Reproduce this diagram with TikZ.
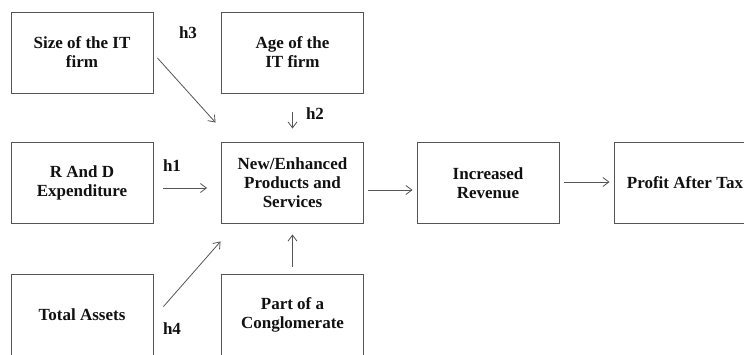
\documentclass[tikz,border=0pt]{standalone}
\usepackage{fontspec}
\setmainfont{Liberation Serif}
\usetikzlibrary{arrows.meta,calc}
\definecolor{linegray}{HTML}{555555}
\definecolor{textdark}{HTML}{111111}
\tikzset{
  factor/.style={
    rectangle, draw=linegray, line width=0.9pt,
    minimum width=142pt, minimum height=81pt, align=center,
    font=\fontsize{17}{19}\selectfont\bfseries, text=textdark
  },
  hyp/.style={font=\fontsize{17}{19}\selectfont\bfseries, text=textdark},
  arrow/.style={-{Straight Barb[length=6pt,width=9pt]}, line width=0.8pt, draw=linegray}
}
\begin{document}
\begin{tikzpicture}[x=1pt,y=-1pt]
\useasboundingbox (0,0) rectangle (744,354);
\clip (0,0) rectangle (744,354);
% factors
\node[factor] (size) at (82,52.5) {Size of the IT\\firm};
\node[factor] (age) at (292.5,52.5) {Age of the\\IT firm};
\node[factor] (rd) at (82,183) {R And D\\Expenditure};
\node[factor] (ctr) at (292.5,183) {New/Enhanced\\Products and\\Services};
\node[factor] (rev) at (488,183) {Increased\\Revenue};
\node[factor] (pat) at (685,183) {Profit After Tax};
\node[factor] (ta) at (82,315) {Total Assets};
\node[factor] (part) at (292.5,315) {Part of a\\Conglomerate};
% hypotheses
\node[hyp] (h3) at (188,33) {h3};
\node[hyp] (h2) at (315,114) {h2};
\node[hyp] (h1) at (172,166) {h1};
\node[hyp] (h4) at (172,329) {h4};
% links
\draw[arrow] ($(size.east)+(4,5.5)$) -- ($(ctr.north west)+(-5.5,-19.5)$);
\draw[arrow, shorten <=19pt, shorten >=13.5pt] (age) -- (ctr);
\draw[arrow] ($(rd.east)+(10,5)$) -- ($(ctr.west)+(-14,5)$);
\draw[arrow] ($(ta.north east)+(10,32.5)$) -- ($(ctr.south west)+(-0.5,17.5)$);
\draw[arrow, shorten <=7.5pt, shorten >=10.5pt] (part) -- (ctr);
\draw[arrow] ($(ctr.east)+(4,7)$) -- ($(rev.west)+(-4,7)$);
\draw[arrow] ($(rev.east)+(5,-1)$) -- ($(pat.west)+(-4,-1)$);
\end{tikzpicture}
\end{document}
